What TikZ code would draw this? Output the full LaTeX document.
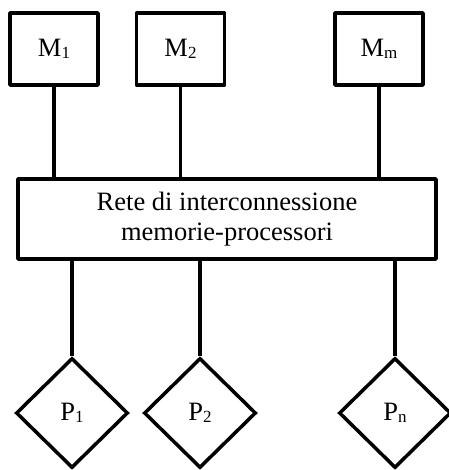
\documentclass[tikz,border=0pt]{standalone}
\usepackage{fontspec}
\setmainfont{Liberation Serif}
\usetikzlibrary{shapes.geometric}
\newcommand{\lowsub}[1]{\raisebox{-2.5pt}{\fontsize{17}{17}\selectfont #1}}
\tikzset{
  every node/.style={font=\fontsize{26.5}{30}\selectfont},
  membox/.style={draw, line width=3.5pt, line join=round, minimum width=88pt, minimum height=72pt, inner sep=0pt},
  netbox/.style={draw, line width=3.5pt, line join=round, minimum width=418pt, minimum height=80pt, inner sep=0pt, align=center},
  procbox/.style={draw, diamond, aspect=1, line width=3.5pt, minimum width=112pt, minimum height=110pt, inner sep=0pt},
  link/.style={line width=3.5pt}
}
\begin{document}
\begin{tikzpicture}[x=1pt,y=-1pt]
\useasboundingbox (0,0) rectangle (448,470);
\node[membox] (m1) at (54,49) {M\lowsub{1}};
\node[membox] (m2) at (180.5,49) {M\lowsub{2}};
\node[membox] (mm) at (379,49) {M\lowsub{m}};
\node[netbox] (net) at (227,219) {Rete di interconnessione\\memorie-processori};
\node[procbox] (p1) at (72,413) {P\lowsub{1}};
\node[procbox] (p2) at (200,413) {P\lowsub{2}};
\node[procbox] (pn) at (395,413) {P\lowsub{n}};
\draw[link] (m1.south) -- (m1.south |- net.north);
\draw[link] (m2.south) -- (m2.south |- net.north);
\draw[link] (mm.south) -- (mm.south |- net.north);
\draw[link] (net.south -| p1.north) -- (p1.north);
\draw[link] (net.south -| p2.north) -- (p2.north);
\draw[link] (net.south -| pn.north) -- (pn.north);
\end{tikzpicture}
\end{document}
